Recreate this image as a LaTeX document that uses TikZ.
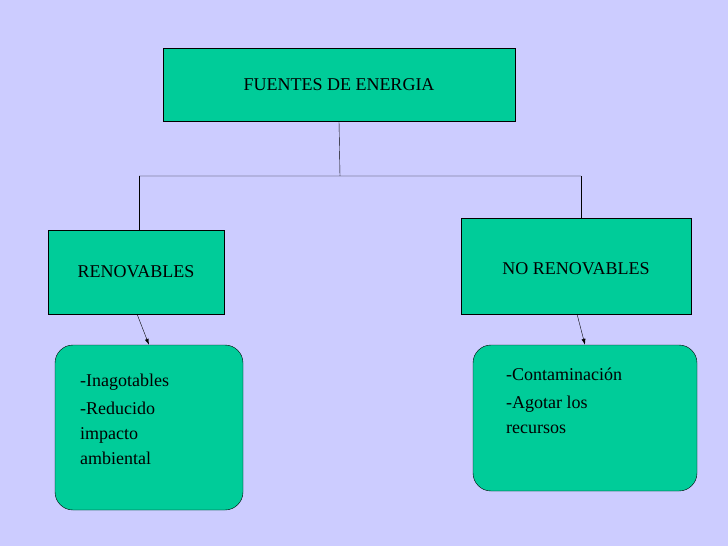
\documentclass[tikz,border=0pt]{standalone}
\usepackage{fontspec}
\usetikzlibrary{arrows.meta}
\setmainfont{Liberation Serif}
\definecolor{bg}{HTML}{CCCCFF}
\definecolor{tl}{HTML}{00CC99}
\begin{document}
\begin{tikzpicture}[x=1pt,y=-1pt,
 box/.style={draw=black,fill=tl,inner sep=0pt,font=\fontsize{18}{22}\selectfont},
 rbox/.style={draw=black,fill=tl,rounded corners=18pt,inner sep=0pt},
 txt/.style={anchor=north west,align=left,font=\fontsize{18}{25}\selectfont,inner sep=0pt}]
\fill[bg] (0,0) rectangle (728,546);
\useasboundingbox (0,0) rectangle (728,546);
\node[box,minimum width=352pt,minimum height=73pt] (top) at (339,84.5) {FUENTES DE ENERGIA};
\node[box,minimum width=176pt,minimum height=84pt] (ren) at (136,272) {RENOVABLES};
\node[box,minimum width=230pt,minimum height=96pt] (nren) at (576,266) {};
\node[font=\fontsize{18}{22}\selectfont] at (576,269) {NO RENOVABLES};
\node[rbox,minimum width=188pt,minimum height=165pt] (l) at (149,427.5) {};
\node[rbox,minimum width=224pt,minimum height=146pt] (r) at (585,418) {};
\coordinate (j) at (340,176);
\draw (top.south) -- (j) (139,176) -- (581,176);
\draw (139,176) -- (139,230);
\draw (581,176) -- (581,218);
\draw[-{Latex[length=6pt,width=4pt]}] (137,314) -- (l.north);
\draw[-{Latex[length=6pt,width=4pt]}] (577,314) -- (r.north);
\node[txt] at (80,374) {-Inagotables\\[3pt]-Reducido\\impacto\\ambiental};
\node[txt] at (506,368) {-Contaminación\\[3pt]-Agotar los\\recursos};
\end{tikzpicture}
\end{document}
